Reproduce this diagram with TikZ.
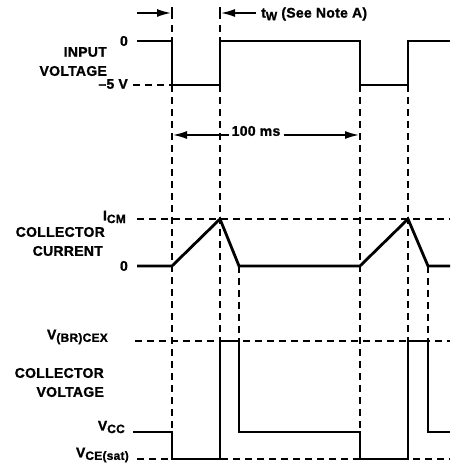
\documentclass[tikz,border=0pt]{standalone}
\usepackage{fontspec}
\setmainfont{Liberation Sans}[BoldFeatures={FakeBold=1.2,LetterSpace=2}]
\usetikzlibrary{arrows.meta}
\newcommand\lsub[1]{\raisebox{-0.35ex}{\fontsize{12}{12}\selectfont #1}}
\begin{document}
\begin{tikzpicture}[x=1pt,y=1pt,
  wave/.style={line width=2.8pt, line join=miter},
  guide/.style={line width=1.9pt, dash pattern=on 7pt off 5pt},
  tick/.style={line width=1.9pt},
  lbl/.style={font=\fontsize{14}{15}\selectfont\bfseries, inner sep=0pt, anchor=east},
  arr/.style={line width=1.6pt, -{Latex[length=14pt,width=8pt]}}]
\useasboundingbox (0,0) rectangle (450,465);
% key coordinates
\coordinate (tA) at (172,458); \coordinate (tA2) at (172,446);
\coordinate (tB) at (220,458); \coordinate (tB2) at (220,446);
\coordinate (gA1) at (172,440); \coordinate (gA2) at (172,6);
\coordinate (gB1) at (220,440); \coordinate (gB2) at (220,6);
\coordinate (gD1) at (360,380); \coordinate (gD2) at (360,6);
\coordinate (gE1) at (408,380); \coordinate (gE2) at (408,6);
\coordinate (gC1) at (239,199); \coordinate (gC2) at (239,124);
\coordinate (gF1) at (428,199); \coordinate (gF2) at (428,124);
% guides
\draw[guide] (gA1) -- (gA2);
\draw[guide] (gB1) -- (gB2);
\draw[guide] (gD1) -- (gD2);
\draw[guide] (gE1) -- (gE2);
\draw[guide] (gC1) -- (gC2);
\draw[guide] (gF1) -- (gF2);
\draw[tick] (tA) -- (tA2);
\draw[tick] (tB) -- (tB2);
\coordinate (m5a) at (133,380); \coordinate (m5b) at (172,380);
\coordinate (icma) at (137,246); \coordinate (icmb) at (450,246);
\coordinate (bra) at (135,124); \coordinate (brb) at (450,124);
\coordinate (sata) at (137,6); \coordinate (satb) at (450,6);
\draw[guide] (m5a) -- (m5b);
\draw[guide] (icma) -- (icmb);
\draw[guide] (bra) -- (brb);
\draw[guide] (sata) -- (satb);
% waveforms
\draw[wave] (137,424) -| (172,380) -| (220,424) -| (360,380) -| (408,424) -- (450,424);
\draw[wave] (137,199) -- (172,199) -- (220,246) -- (239,199) -- (360,199) -- (408,246) -- (428,199) -- (450,199);
\draw[wave] (133,33) -| (172,6) -| (220,124) -| (239,33) -| (360,6) -| (408,124) -| (428,33) -- (450,33);
% arrows
\coordinate (a1s) at (137,452); \coordinate (a1e) at (171,452);
\coordinate (a2s) at (256,452); \coordinate (a2e) at (221,452);
\draw[arr] (a1s) -- (a1e);
\draw[arr] (a2s) -- (a2e);
\node[lbl, anchor=west] (tw) at (261,451) {t\lsub{W} (See Note A)};
\node[lbl, anchor=center] (ms) at (256,334) {100 ms};
\coordinate (m1e) at (173,330); \coordinate (m2e) at (359,330);
\draw[arr] (ms.west) ++(-3pt,-4pt) coordinate (m1s) -- (m1e);
\draw[arr] (ms.east) ++(3pt,-4pt) coordinate (m2s) -- (m2e);
% labels
\node[lbl] (in0) at (128,424) {0};
\node[lbl] (inp) at (107,413) {INPUT};
\node[lbl] (inv) at (107,394) {VOLTAGE};
\node[lbl] (in5) at (128,381) {\textendash5 V};
\node[lbl] (icm) at (126,248) {I\lsub{CM}};
\node[lbl] (cc1) at (105,233) {COLLECTOR};
\node[lbl] (cc2) at (103,214) {CURRENT};
\node[lbl] (c0) at (128,199) {0};
\node[lbl] (vbr) at (108,128) {V\lsub{(BR)CEX}};
\node[lbl] (cv1) at (104,92) {COLLECTOR};
\node[lbl] (cv2) at (104,73) {VOLTAGE};
\node[lbl] (vcc) at (125,38) {V\lsub{CC}};
\node[lbl] (vsat) at (129,10) {V\lsub{CE(sat)}};
\end{tikzpicture}
\end{document}
